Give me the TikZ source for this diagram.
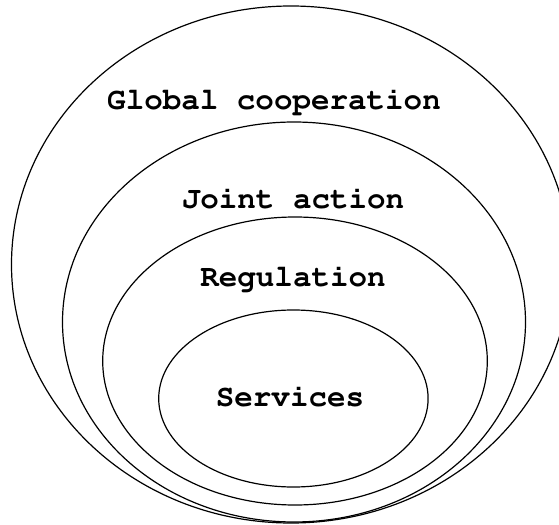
\documentclass[tikz,border=0pt]{standalone}
\usepackage[T1]{fontenc}
\usepackage{courier}
\begin{document}
\begin{tikzpicture}[x=1bp,y=-1bp,
  ring/.style={draw=black,line width=1.2bp},
  lbl/.style={font=\ttfamily\bfseries\fontsize{31}{31}\selectfont}]
\useasboundingbox (0,0) rectangle (559,525);
\begin{scope}
\clip (0,0) rectangle (559,525);
\draw[ring] (291,264.5) ellipse [x radius=279.5, y radius=258.5];
\end{scope}
\draw[ring] (294,322) ellipse [x radius=231.5, y radius=200];
\draw[ring] (295,361) ellipse [x radius=192.3, y radius=144];
\draw[ring] (293.4,398.5) ellipse [x radius=134.7, y radius=88.5];
\node[lbl] (g) at (274,101) {Global cooperation};
\node[lbl] (j) at (293,199) {Joint action};
\node[lbl] (r) at (293,278) {Regulation};
\node[lbl] (s) at (290,397) {Services};
\end{tikzpicture}
\end{document}
